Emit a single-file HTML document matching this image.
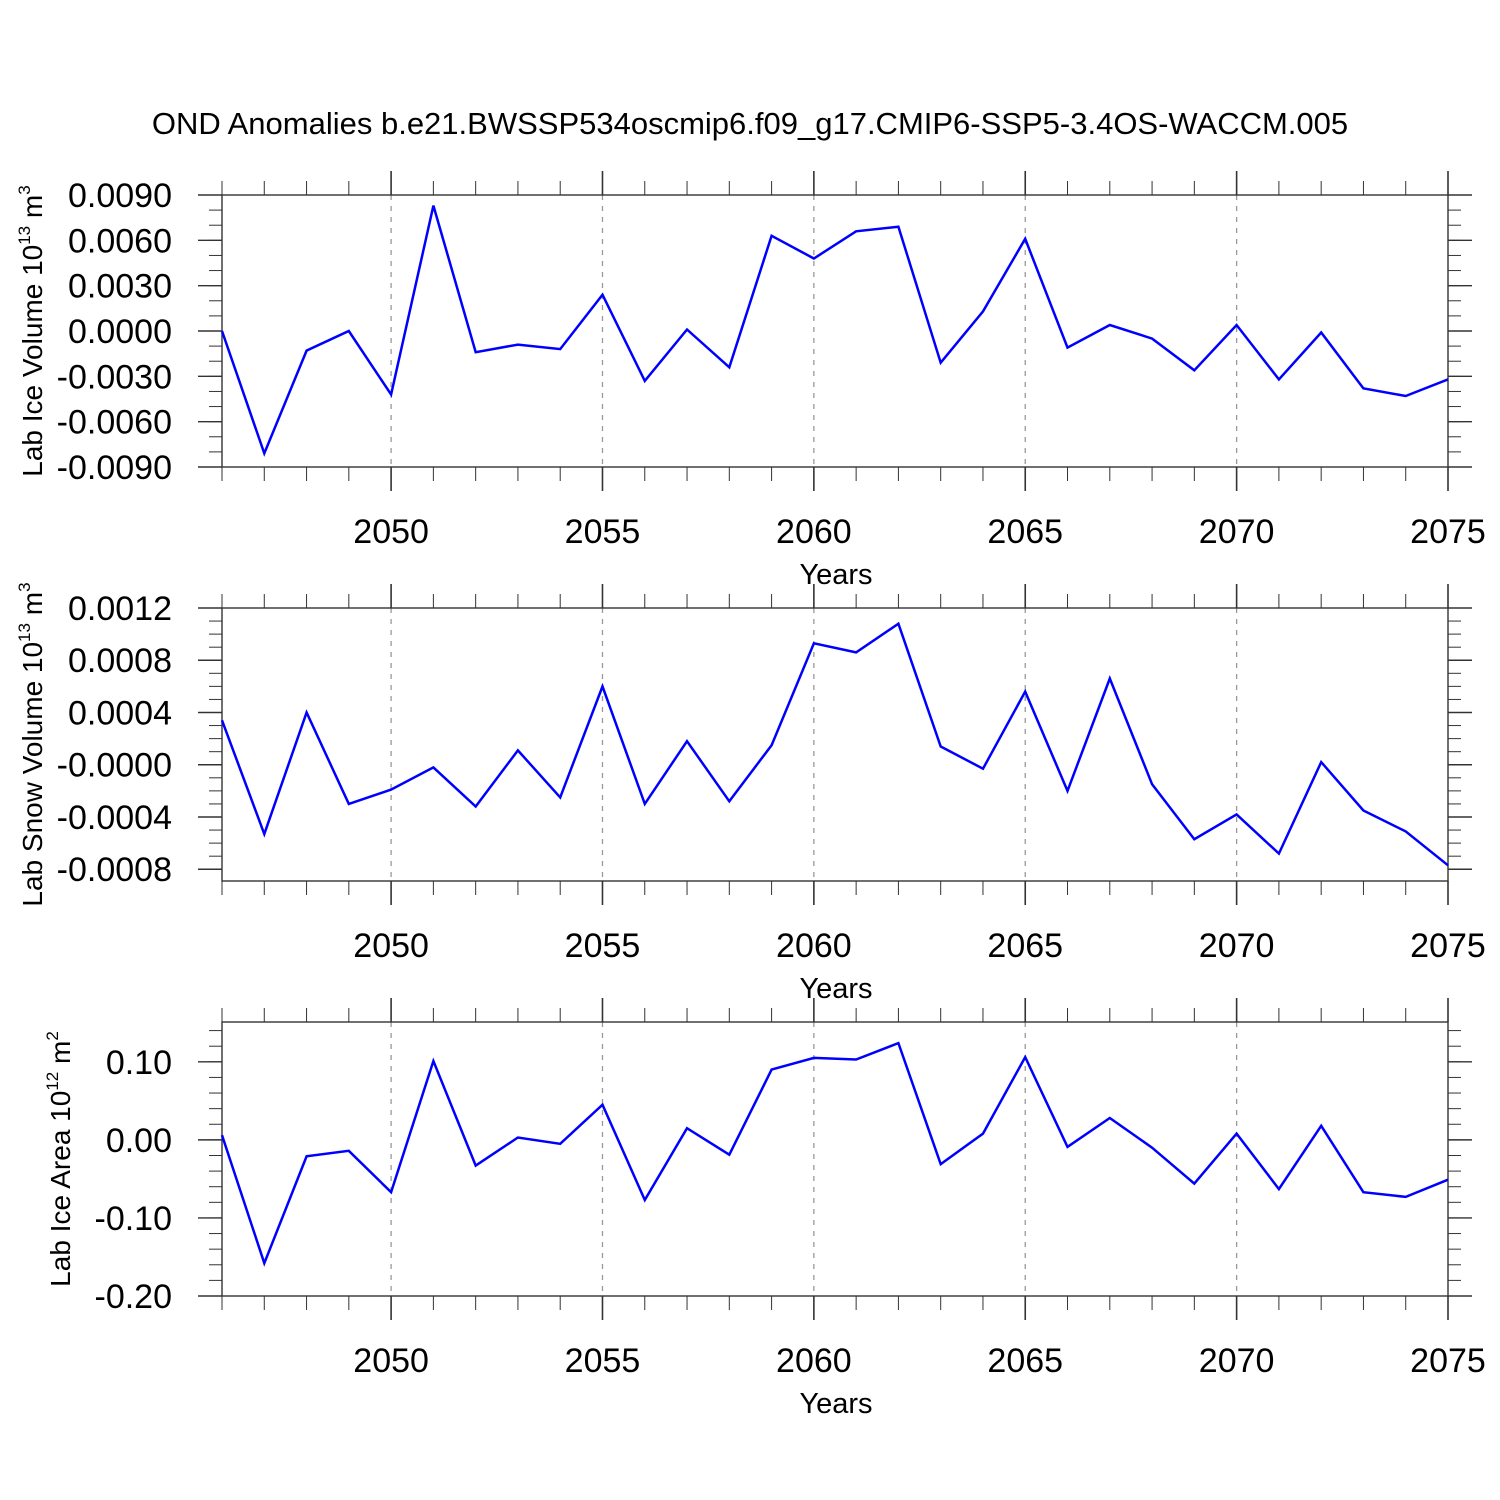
<!DOCTYPE html>
<html><head><meta charset="utf-8"><style>
html,body{margin:0;padding:0;background:#fff;}
svg{display:block;font-family:"Liberation Sans",Arial,sans-serif;}
</style></head><body>
<svg id="chart" width="1500" height="1500" viewBox="0 0 1500 1500" xmlns="http://www.w3.org/2000/svg">
<text x="750" y="134" font-size="31" text-anchor="middle">OND Anomalies b.e21.BWSSP534oscmip6.f09_g17.CMIP6-SSP5-3.4OS-WACCM.005</text>
</svg>
<script>
const years = [2046,2047,2048,2049,2050,2051,2052,2053,2054,2055,2056,2057,2058,2059,2060,2061,2062,2063,2064,2065,2066,2067,2068,2069,2070,2071,2072,2073,2074,2075];
const iceVolume = [0.0000,-0.0081,-0.0013,0.0000,-0.0042,0.0083,-0.0014,-0.0009,-0.0012,0.0024,-0.0033,0.0001,-0.0024,0.0063,0.0048,0.0066,0.0069,-0.0021,0.0013,0.0061,-0.0011,0.0004,-0.0005,-0.0026,0.0004,-0.0032,-0.0001,-0.0038,-0.0043,-0.0032];
const snowVolume = [0.00034,-0.00053,0.00040,-0.00030,-0.00019,-0.00002,-0.00032,0.00011,-0.00025,0.00060,-0.00030,0.00018,-0.00028,0.00015,0.00093,0.00086,0.00108,0.00014,-0.00003,0.00056,-0.00020,0.00066,-0.00015,-0.00057,-0.00038,-0.00068,0.00002,-0.00035,-0.00051,-0.00077];
const iceArea = [0.006,-0.158,-0.021,-0.014,-0.067,0.101,-0.033,0.003,-0.005,0.045,-0.077,0.015,-0.019,0.090,0.105,0.103,0.124,-0.031,0.008,0.106,-0.009,0.028,-0.010,-0.056,0.008,-0.063,0.018,-0.067,-0.073,-0.051];
const xTickLabels = [2050,2055,2060,2065,2070,2075];
const iceVolTicks = [0.009,0.006,0.003,0,-0.003,-0.006,-0.009];
const iceVolTickLabels = ["0.0090","0.0060","0.0030","0.0000","-0.0030","-0.0060","-0.0090"];
const snowTicks = [0.0012,0.0008,0.0004,0,-0.0004,-0.0008];
const snowTickLabels = ["0.0012","0.0008","0.0004","-0.0000","-0.0004","-0.0008"];
const areaTicks = [0.1,0,-0.1,-0.2];
const areaTickLabels = ["0.10","0.00","-0.10","-0.20"];

const NS="http://www.w3.org/2000/svg";
const svg=document.getElementById('chart');
function mk(tag,attrs,parent){const e=document.createElementNS(NS,tag);for(const k in attrs)e.setAttribute(k,attrs[k]);(parent||svg).appendChild(e);return e;}
const X0=222,X1=1448,xmin=2046,xmax=2075;
function xs(v){return X0+(v-xmin)/(xmax-xmin)*(X1-X0);}

function panel(cfg){
  const g=mk('g',{});
  
  
  const ys=v=>cfg.top+(cfg.ymax-v)/(cfg.ymax-cfg.ymin)*(cfg.bot-cfg.top);
  const ax='#333';
  xTickLabels.forEach(t=>{ if(t<xmax){const l=mk('line',{x1:xs(t),x2:xs(t),y1:cfg.top,y2:cfg.bot,stroke:'#999','stroke-width':1.3,'stroke-dasharray':'5,6'},g);
    
    }});
  for(let y=xmin;y<=xmax;y++){
    const major=xTickLabels.includes(y);
    const len=major?24:14;
    const x=xs(y);
    mk('line',{x1:x,x2:x,y1:cfg.top-len,y2:cfg.top,stroke:ax,'stroke-width':major?1.6:1},g);
    mk('line',{x1:x,x2:x,y1:cfg.bot,y2:cfg.bot+len,stroke:ax,'stroke-width':major?1.6:1},g);
  }
  const step=cfg.minor;
  const n0=Math.ceil(cfg.ymin/step-1e-6),n1=Math.floor(cfg.ymax/step+1e-6);
  for(let i=n0;i<=n1;i++){const y=ys(i*step);
    mk('line',{x1:X0-13,x2:X0,y1:y,y2:y,stroke:ax,'stroke-width':1},g);
    mk('line',{x1:X1,x2:X1+13,y1:y,y2:y,stroke:ax,'stroke-width':1},g);}
  cfg.ticks.forEach((t,i)=>{const y=ys(t);
    mk('line',{x1:X0-24,x2:X0,y1:y,y2:y,stroke:ax,'stroke-width':1.4},g);
    mk('line',{x1:X1,x2:X1+24,y1:y,y2:y,stroke:ax,'stroke-width':1.4},g);
    const tx=mk('text',{x:172,y:y+12,'font-size':34,'text-anchor':'end'},g);
    tx.textContent=cfg.tickLabels[i];
    
    
  });
  const fr=mk('rect',{x:X0,y:cfg.top,width:X1-X0,height:cfg.bot-cfg.top,fill:'none',stroke:ax,'stroke-width':1.4},g);
  
  
  xTickLabels.forEach(t=>{const tx=mk('text',{x:xs(t),y:cfg.bot+76,'font-size':34,'text-anchor':'middle'},g);
    tx.textContent=t;
    
    });
  const xt=mk('text',{x:836,y:cfg.bot+117,'font-size':29,'text-anchor':'middle'},g);
  xt.textContent='Years';
  
  
  const cy=(cfg.top+cfg.bot)/2;
  const yt=mk('text',{x:0,y:0,'font-size':28,'text-anchor':'middle',transform:`translate(${cfg.titleX},${cy}) rotate(-90)`},g);
  yt.innerHTML=cfg.ytitle+' 10<tspan dy="-12" font-size="17">'+cfg.exp+'</tspan><tspan dy="12"> m</tspan><tspan dy="-12" font-size="17">'+cfg.unitExp+'</tspan>';
  
  
  const pts=years.map((yr,i)=>xs(yr).toFixed(1)+','+ys(cfg.data[i]).toFixed(1)).join(' ');
  const pl=mk('polyline',{points:pts,fill:'none',stroke:'#0000ff','stroke-width':2.5,'stroke-linejoin':'miter'},g);
  
  
}
panel({name:'ice-volume-panel',top:195,bot:467,ymax:0.009,ymin:-0.009,ticks:iceVolTicks,tickLabels:iceVolTickLabels,minor:0.001,data:iceVolume,ytitle:'Lab Ice Volume',exp:'13',unitExp:'3',titleX:42});
panel({name:'snow-volume-panel',top:608,bot:881,ymax:0.0012,ymin:-0.00089,ticks:snowTicks,tickLabels:snowTickLabels,minor:0.0001,data:snowVolume,ytitle:'Lab Snow Volume',exp:'13',unitExp:'3',titleX:42});
panel({name:'ice-area-panel',top:1022,bot:1296,ymax:0.151,ymin:-0.2,ticks:areaTicks,tickLabels:areaTickLabels,minor:0.02,data:iceArea,ytitle:'Lab Ice Area',exp:'12',unitExp:'2',titleX:70});
</script>
</body></html>
